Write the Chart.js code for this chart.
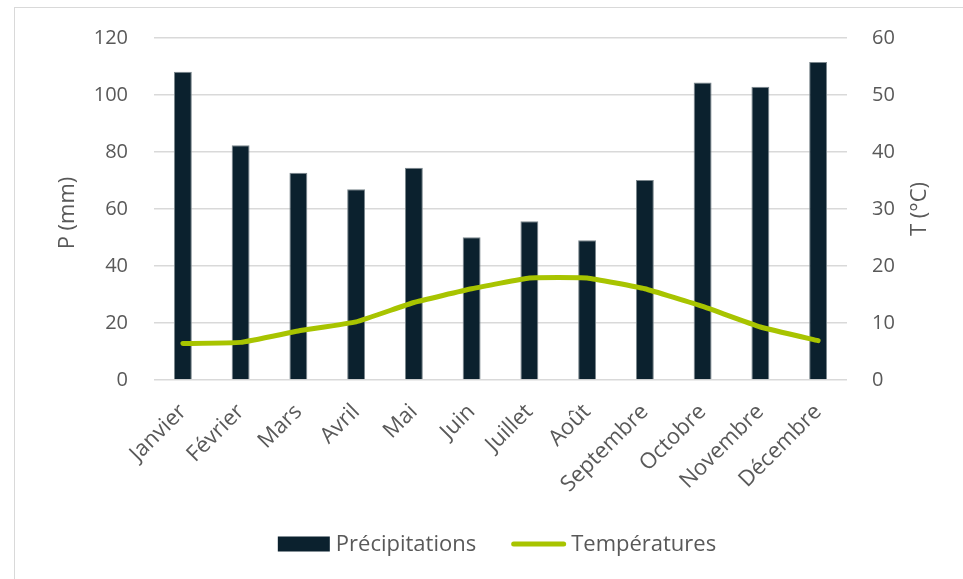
<!DOCTYPE html>
<html lang="fr">
<head>
<meta charset="utf-8">
<title>Diagramme ombrothermique</title>
<script src="https://cdn.jsdelivr.net/npm/chart.js@4/dist/chart.umd.min.js"></script>
<style>
  html, body { margin: 0; padding: 0; background: #ffffff; overflow: hidden; width: 963px; height: 579px; }
  #frame {
    position: absolute; left: 14px; top: 7px;
    border-left: 1px solid #d9d9d9; border-top: 1px solid #d9d9d9;
    width: 980px; height: 600px;
  }
  #chart { position: absolute; left: 15px; top: 0; display: block; }
</style>
</head>
<body>
<div id="frame"></div>
<canvas id="chart" width="964" height="579"></canvas>
<script>
// Mois de l'année
const months = ['Janvier', 'Février', 'Mars', 'Avril', 'Mai', 'Juin',
                'Juillet', 'Août', 'Septembre', 'Octobre', 'Novembre', 'Décembre'];
// Précipitations mensuelles (mm)
const precipitation = [108.2, 82.4, 72.7, 66.9, 74.5, 50.1, 55.7, 49.0, 70.2, 104.4, 102.9, 111.6];
// Températures moyennes mensuelles (°C)
const temperature = [6.4, 6.6, 8.6, 10.2, 13.6, 16.0, 17.9, 17.9, 16.0, 12.9, 9.3, 6.9];
// Libellés des séries et des axes
const seriesNames = ['Précipitations', 'Températures'];
const axisTitles = ['P (mm)', 'T (°C)'];
// Bornes des deux axes verticaux
const precipAxis = { min: 0, max: 120, step: 20 };
const tempAxis = { min: 0, max: 60, step: 10 };

const FONT = '"Open Sans", "Noto Sans", sans-serif';
const TEXT = '#595959';
const GRID = '#d9d9d9';
const BAR = '#0b212e';
const LINE = '#a8c400';

// Titres verticaux des deux axes, lus de bas en haut
const axisTitlePlugin = {
  id: 'axisTitles',
  afterDraw(chart) {
    const { ctx, chartArea } = chart;
    const cy = (chartArea.top + chartArea.bottom) / 2;
    const spots = [
      [chartArea.left - 86, cy + 4, axisTitles[0]],
      [chartArea.right + 73, cy, axisTitles[1]]
    ];
    ctx.save();
    ctx.font = '22px ' + FONT;
    ctx.fillStyle = TEXT;
    ctx.textAlign = 'center';
    ctx.textBaseline = 'middle';
    spots.forEach(([x, y, t]) => {
      ctx.save();
      ctx.translate(x, y);
      ctx.rotate(-Math.PI / 2);
      ctx.fillText(t, 0, 0);
      ctx.restore();
    });
    ctx.restore();
  }
};

// Légende en bas : rectangle pour les barres, trait pour la courbe
const bottomLegendPlugin = {
  id: 'bottomLegend',
  afterDraw(chart) {
    const { ctx, width, height } = chart;
    const y = height - 35;
    const items = [
      { text: seriesNames[0], kind: 'rect', w: 52, gap: 6 },
      { text: seriesNames[1], kind: 'line', w: 55, gap: 5 }
    ];
    const spacing = 35;
    ctx.save();
    ctx.font = '22px ' + FONT;
    ctx.textBaseline = 'middle';
    ctx.textAlign = 'left';
    items.forEach(it => { it.tw = ctx.measureText(it.text).width; });
    const total = items.reduce((s, it) => s + it.w + it.gap + it.tw, 0) + spacing * (items.length - 1);
    let x = width / 2 - total / 2;
    items.forEach(it => {
      if (it.kind === 'rect') {
        ctx.fillStyle = BAR;
        ctx.fillRect(x, y - 7.5, it.w, 15);
      } else {
        ctx.strokeStyle = LINE;
        ctx.lineWidth = 5;
        ctx.lineCap = 'round';
        ctx.beginPath();
        ctx.moveTo(x + 2.5, y);
        ctx.lineTo(x + it.w - 2.5, y);
        ctx.stroke();
      }
      ctx.fillStyle = TEXT;
      ctx.fillText(it.text, x + it.w + it.gap, y + 1);
      x += it.w + it.gap + it.tw + spacing;
    });
    ctx.restore();
  }
};

new Chart(document.getElementById('chart'), {
  data: {
    labels: months,
    datasets: [
      {
        type: 'line',
        label: seriesNames[1],
        data: temperature,
        yAxisID: 'yT',
        borderColor: LINE,
        backgroundColor: LINE,
        borderWidth: 5,
        borderCapStyle: 'round',
        borderJoinStyle: 'round',
        pointRadius: 0,
        pointHoverRadius: 0,
        tension: 0.1,
        order: 0
      },
      {
        type: 'bar',
        label: seriesNames[0],
        data: precipitation,
        yAxisID: 'yP',
        backgroundColor: BAR,
        borderColor: '#7b878d',
        borderWidth: 1,
        borderSkipped: 'bottom',
        barPercentage: 0.31,
        categoryPercentage: 1,
        order: 1
      }
    ]
  },
  options: {
    responsive: false,
    animation: false,
    devicePixelRatio: 1,
    layout: { padding: { top: 0, left: 0, right: 0, bottom: 60 } },
    plugins: {
      tooltip: { enabled: false },
      legend: { display: false }
    },
    scales: {
      x: {
        grid: { display: false },
        border: { display: false },
        ticks: {
          autoSkip: false,
          minRotation: 45,
          maxRotation: 45,
          padding: 11,
          color: TEXT,
          font: { family: FONT, size: 22 }
        },
        afterFit(scale) { scale.height = 139; }
      },
      yP: {
        position: 'left',
        min: precipAxis.min,
        max: precipAxis.max,
        ticks: { stepSize: precipAxis.step, padding: 26, color: TEXT, font: { family: FONT, size: 20 } },
        grid: { color: GRID, lineWidth: 1.5, drawTicks: false },
        border: { display: false },
        afterFit(scale) { scale.width = 139; }
      },
      yT: {
        position: 'right',
        min: tempAxis.min,
        max: tempAxis.max,
        ticks: { stepSize: tempAxis.step, padding: 25, color: TEXT, font: { family: FONT, size: 20 } },
        grid: { display: false, drawTicks: false },
        border: { display: false },
        afterFit(scale) { scale.width = 132; }
      }
    }
  },
  plugins: [axisTitlePlugin, bottomLegendPlugin]
});
</script>
</body>
</html>
